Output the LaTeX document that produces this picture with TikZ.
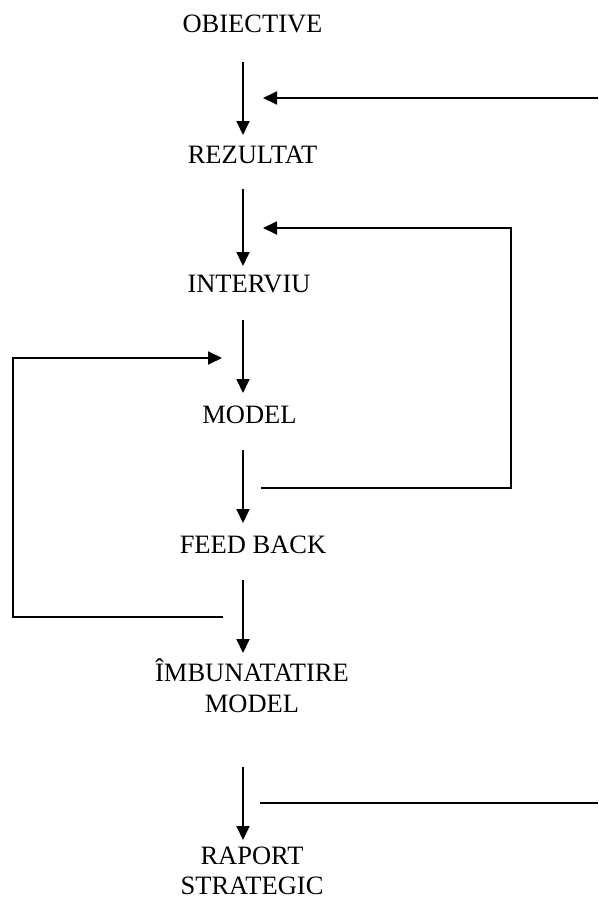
\documentclass[tikz,border=0pt]{standalone}
\usepackage{fontspec}
\setmainfont{Liberation Serif}
\usetikzlibrary{arrows.meta}
\begin{document}
\begin{tikzpicture}[x=1pt,y=-1pt,
  lbl/.style={inner sep=0pt,anchor=base,align=center,font=\fontsize{26.5}{30.5}\selectfont},
  ln/.style={line width=1.8pt},
  arr/.style={ln,-{Triangle[length=14pt,width=13pt]}}]
\useasboundingbox (0,0) rectangle (598,900);
% text nodes (base anchor = baseline of the last line)
\node[lbl] (obi) at (252.5,32) {OBIECTIVE};
\node[lbl] (rez) at (252.5,163) {REZULTAT};
\node[lbl] (int) at (249,292) {INTERVIU};
\node[lbl] (mod) at (249.5,423) {MODEL};
\node[lbl] (fb)  at (253,553) {FEED BACK};
\node[lbl] (imb) at (252,712) {ÎMBUNATATIRE\\MODEL};
\node[lbl] (rap) at (252,894.5) {RAPORT\\STRATEGIC};
% vertical arrow ends
\coordinate (v1a) at (243,62);  \coordinate (v1b) at (243,135);
\coordinate (v2a) at (243,189); \coordinate (v2b) at (243,266);
\coordinate (v3a) at (243,320); \coordinate (v3b) at (243,393);
\coordinate (v4a) at (243,450); \coordinate (v4b) at (243,523);
\coordinate (v5a) at (243,580); \coordinate (v5b) at (243,653);
\coordinate (v6a) at (243,767); \coordinate (v6b) at (243,840);
\draw[arr] (v1a) -- (v1b);
\draw[arr] (v2a) -- (v2b);
\draw[arr] (v3a) -- (v3b);
\draw[arr] (v4a) -- (v4b);
\draw[arr] (v5a) -- (v5b);
\draw[arr] (v6a) -- (v6b);
% feedback lines
\coordinate (t1a) at (598,98);  \coordinate (t1b) at (263,98);
\draw[arr] (t1a) -- (t1b);
\coordinate (l2a) at (261,488); \coordinate (l2b) at (511,488);
\coordinate (l2c) at (511,228); \coordinate (l2d) at (263,228);
\draw[arr] (l2a) -- (l2b) -- (l2c) -- (l2d);
\coordinate (l3a) at (223,617); \coordinate (l3b) at (13,617);
\coordinate (l3c) at (13,358);  \coordinate (l3d) at (222,358);
\draw[arr] (l3a) -- (l3b) -- (l3c) -- (l3d);
\coordinate (b1a) at (260,803); \coordinate (b1b) at (598,803);
\draw[ln] (b1a) -- (b1b);
\end{tikzpicture}
\end{document}
